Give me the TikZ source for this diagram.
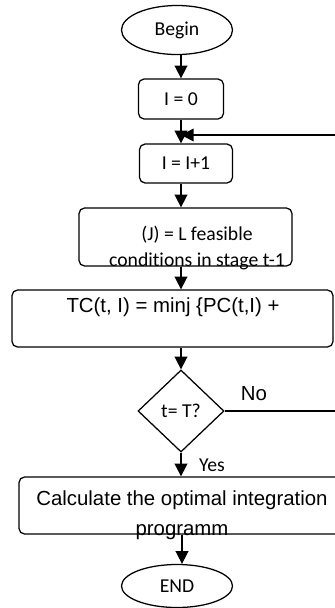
\documentclass[tikz,border=0pt]{standalone}
\usepackage{fontspec}
\setmainfont[Ligatures=NoCommon]{Carlito}
\newfontfamily\arialfont{Liberation Sans}
\usetikzlibrary{shapes.geometric, arrows.meta}
\tikzstyle{arrow} = [line width=1.1pt,-{Triangle[length=9pt,width=9pt]}]

\begin{document}
\begin{tikzpicture}
        [
            x=0.025cm, y=-0.025cm,
            box/.style={rectangle,rounded corners=4pt,draw=black,line width=0.9pt,inner sep=0pt},
            term/.style={ellipse,draw=black,line width=0.9pt,minimum width=2.775cm,inner sep=0pt},
            decision/.style={diamond,draw=black,line width=0.9pt,minimum width=2.15cm,minimum height=2.05cm,inner sep=0pt},
            txt/.style={font=\fontsize{14}{18.5}\selectfont,inner sep=0pt},
            atxt/.style={font=\arialfont\fontsize{14.5}{18.5}\selectfont,inner sep=0pt},
        ]
    \useasboundingbox (0,0) rectangle (335,608);
    \clip (0,0) rectangle (335,608);

    % terminals and steps
    \node[term,minimum height=1.225cm,txt] (begin) at (177,30){Begin};
    \node[box,minimum width=2.125cm,minimum height=1.0cm,txt] (izero) at (181,99){I = 0};
    \node[box,minimum width=2.325cm,minimum height=0.975cm,txt] (iinc) at (186,163.5){I = I+1};
    \node[box,minimum width=5.325cm,minimum height=1.45cm] (jbox) at (185.5,237){};
    \node[txt,align=center] (jtext) at (197,248){(J) = L feasible\\conditions in stage t-1};
    \node[box,minimum width=8.025cm,minimum height=1.425cm] (tcbox) at (172.5,318.5){};
    \node[atxt,anchor=base] (tctext) at (173,312){TC(t, I) = minj \{PC(t,I) +};
    \node[decision,txt] (test) at (181,411){t= T?};
    \node[box,minimum width=8.15cm,minimum height=1.425cm] (calc) at (182,505.5){};
    \node[atxt,align=center,font=\arialfont\fontsize{14.5}{21}\selectfont] (calctext) at (182,515){Calculate the optimal integration\\programm};
    \node[term,minimum height=1.075cm,txt] (endnode) at (177,586){END};

    % labels
    \node[atxt] (no) at (254,394){No};
    \node[txt] (yes) at (212,465){Yes};

    % loop points
    \coordinate (merge) at (181,135);
    \coordinate (corner) at (350,411);

    % connectors
    \draw[arrow] (begin.south -| izero) -- (izero.north);
    \draw[arrow] (izero.south) -- (izero.south |- iinc.north);
    \draw[arrow] (iinc.south -| izero) -- (izero |- jbox.north);
    \draw[arrow] (jbox.south -| izero) -- (izero |- tcbox.north);
    \draw[arrow] (tcbox.south -| test) -- (test.north);
    \draw[arrow] (test.south) -- (test |- calc.north);
    \draw[arrow] (calc.south) -- (calc.south |- endnode.north);
    \draw[arrow] (test.east) -- (corner) |- (merge);
\end{tikzpicture}
\end{document}
